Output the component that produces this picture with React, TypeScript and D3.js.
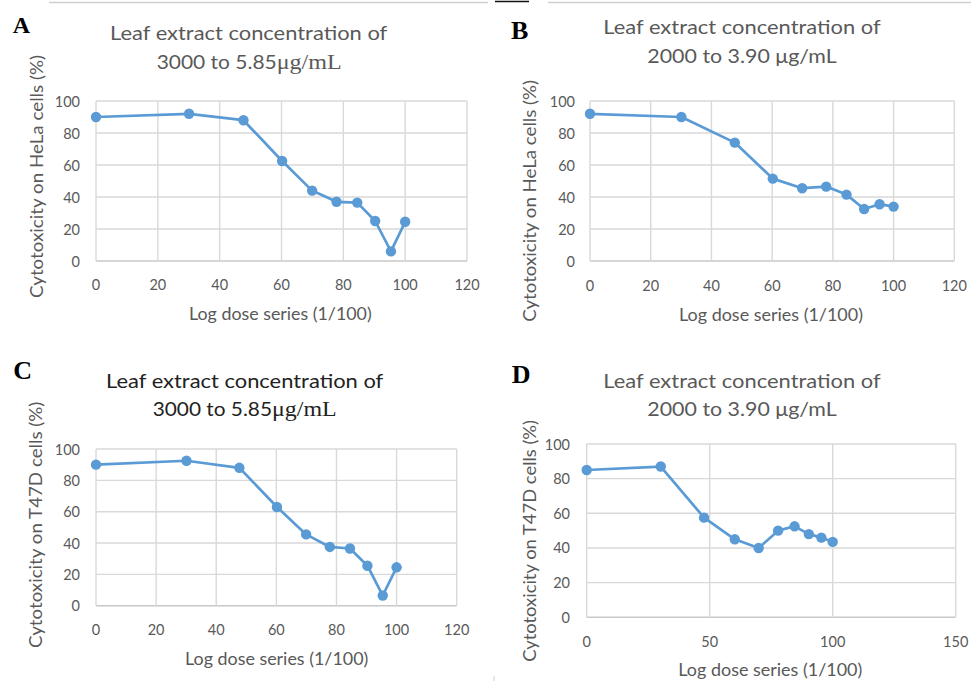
import React from 'react';
import * as d3 from 'd3';

// ---- data ----
const logDose = [0, 30.1, 47.7, 60.2, 69.9, 77.8, 84.5, 90.3, 95.4, 100];
const helaHigh = [90, 92, 88, 62.5, 44, 37, 36.5, 25, 6, 24.5];
const helaLow = [92, 90, 74, 51.5, 45.5, 46.5, 41.5, 32.5, 35.5, 34];
const t47dHigh = [90, 92.5, 88, 63, 45.5, 37.5, 36.5, 25.5, 6.5, 24.5];
const t47dLow = [85, 87, 57.5, 45, 40, 50, 52.5, 48, 46, 43.5];
const yTicks = [0, 20, 40, 60, 80, 100];
const xTicks120 = [0, 20, 40, 60, 80, 100, 120];
const xTicks150 = [0, 50, 100, 150];
const titleLine1 = 'Leaf extract concentration of';
const highRangeNum = '3000 to 5.85';
const highRangeUnit = 'μg/mL';
const lowRange = '2000 to 3.90 μg/mL';
const helaLabel = 'Cytotoxicity on HeLa cells (%)';
const t47dLabel = 'Cytotoxicity on T47D cells (%)';
const xLabel = 'Log dose series (1/100)';

const SANS = 'Lato, "Open Sans", sans-serif';
const SERIF = '"Liberation Serif", "DejaVu Serif", serif';
const BLUE = '#5b9bd5';
const GRID = '#d9d9d9';
const TXT = '#595959';

type Panel = {
  letter: string; letterX: number; letterY: number; letterSize: number;
  values: number[]; xTicks: number[]; xMax: number;
  l: number; r: number; t: number; b: number;
  t1: [number, number, number];
  t2: [number, number, number];
  t2split?: number;
  titleColor: string;
  yLab: string; yLabX: number; yLabY1: number; yLabY2: number;
  xLabX1: number; xLabX2: number; xLabY: number;
  yTickRight: number; xTickDy: number;
};

const panels: Panel[] = [
  {
    letter: 'A', letterX: 12.7, letterY: 33.3, letterSize: 24,
    values: helaHigh, xTicks: xTicks120, xMax: 120,
    l: 96, r: 467, t: 101, b: 261,
    t1: [110, 387.3, 40], t2: [156.7, 341.7, 69], t2split: 276.7, titleColor: TXT,
    yLab: helaLabel, yLabX: 36.7, yLabY1: 55, yLabY2: 298,
    xLabX1: 189, xLabX2: 371.7, xLabY: 319.5,
    yTickRight: 80, xTickDy: 23.5,
  },
  {
    letter: 'B', letterX: 511, letterY: 39.3, letterSize: 26,
    values: helaLow, xTicks: xTicks120, xMax: 120,
    l: 590, r: 954.3, t: 101, b: 261,
    t1: [603.3, 880.7, 34.3], t2: [647.3, 836.7, 63.3], titleColor: TXT,
    yLab: helaLabel, yLabX: 530, yLabY1: 80, yLabY2: 321.7,
    xLabX1: 679, xLabX2: 863, xLabY: 320.7,
    yTickRight: 575, xTickDy: 24,
  },
  {
    letter: 'C', letterX: 13.3, letterY: 379, letterSize: 26,
    values: t47dHigh, xTicks: xTicks120, xMax: 120,
    l: 96, r: 456.7, t: 449, b: 605.7,
    t1: [106, 383.3, 387.7], t2: [152.7, 336.7, 416], t2split: 272, titleColor: '#222222',
    yLab: t47dLabel, yLabX: 36, yLabY1: 401.7, yLabY2: 648,
    xLabX1: 185, xLabX2: 368.3, xLabY: 665,
    yTickRight: 80, xTickDy: 23.6,
  },
  {
    letter: 'D', letterX: 511.7, letterY: 383.3, letterSize: 26,
    values: t47dLow, xTicks: xTicks150, xMax: 150,
    l: 586.7, r: 955.7, t: 444, b: 617.3,
    t1: [603.3, 880.7, 387.7], t2: [647.3, 836.7, 416], titleColor: TXT,
    yLab: t47dLabel, yLabX: 530, yLabY1: 420, yLabY2: 661.7,
    xLabX1: 678.3, xLabX2: 862.3, xLabY: 676,
    yTickRight: 570, xTickDy: 24.4,
  },
];

function ChartPanel({ p }: { p: Panel }) {
  const x = d3.scaleLinear().domain([0, p.xMax]).range([p.l, p.r]);
  const y = d3.scaleLinear().domain([0, 100]).range([p.b, p.t]);
  const pts = logDose.map((d, i) => [d, p.values[i]] as [number, number]);
  const line = d3.line<[number, number]>().x(d => x(d[0])).y(d => y(d[1]));
  return (
    <g>
      <text x={p.letterX} y={p.letterY} fontFamily={SERIF} fontWeight="bold" fontSize={p.letterSize} fill="#000">{p.letter}</text>
      <text x={p.t1[0]} y={p.t1[2]} fontFamily={SANS} fontSize={20} fill={p.titleColor}
        textLength={p.t1[1] - p.t1[0]} lengthAdjust="spacingAndGlyphs">{titleLine1}</text>
      {p.t2split ? (
        <g>
          <text x={p.t2[0]} y={p.t2[2]} fontFamily={SANS} fontSize={20} fill={p.titleColor}
            textLength={p.t2split - p.t2[0]} lengthAdjust="spacingAndGlyphs">{highRangeNum}</text>
          <text x={p.t2split} y={p.t2[2]} fontFamily={SERIF} fontSize={21} fill={p.titleColor}
            textLength={p.t2[1] - p.t2split} lengthAdjust="spacingAndGlyphs">{highRangeUnit}</text>
        </g>
      ) : (
        <text x={p.t2[0]} y={p.t2[2]} fontFamily={SANS} fontSize={20} fill={p.titleColor}
          textLength={p.t2[1] - p.t2[0]} lengthAdjust="spacingAndGlyphs">{lowRange}</text>
      )}
      {yTicks.map(t => (
        <line key={'gy' + t} x1={p.l} x2={p.r} y1={y(t)} y2={y(t)} stroke={t === 0 ? '#c8c8c8' : GRID} strokeWidth={1.4} />
      ))}
      {p.xTicks.map(t => (
        <line key={'gx' + t} x1={x(t)} x2={x(t)} y1={p.t} y2={p.b} stroke={GRID} strokeWidth={1.4} />
      ))}
      {yTicks.map(t => (
        <text key={'ty' + t} x={p.yTickRight} y={y(t)} textAnchor="end" dominantBaseline="central"
          fontFamily={SANS} fontSize={14.5} fill={TXT}>{t}</text>
      ))}
      {p.xTicks.map(t => (
        <text key={'tx' + t} x={x(t)} y={p.b + p.xTickDy} textAnchor="middle" dominantBaseline="central"
          fontFamily={SANS} fontSize={14.5} fill={TXT}>{t}</text>
      ))}
      <text transform={`translate(${p.yLabX},${(p.yLabY1 + p.yLabY2) / 2}) rotate(-90)`} textAnchor="middle"
        dominantBaseline="central" fontFamily={SANS} fontSize={16.5} fill={TXT}
        textLength={p.yLabY2 - p.yLabY1} lengthAdjust="spacingAndGlyphs">{p.yLab}</text>
      <text x={p.xLabX1} y={p.xLabY} fontFamily={SANS} fontSize={16.5} fill={TXT}
        textLength={p.xLabX2 - p.xLabX1} lengthAdjust="spacingAndGlyphs">{xLabel}</text>
      <path d={line(pts) || ''} fill="none" stroke={BLUE} strokeWidth={2.7} strokeLinejoin="round" />
      {pts.map((d, i) => (
        <circle key={'c' + i} cx={x(d[0])} cy={y(d[1])} r={5.2} fill={BLUE} />
      ))}
    </g>
  );
}

export default function App() {
  return (
    <svg width={971} height={681} style={{ position: 'absolute', left: 0, top: 0, background: '#fff' }}>
      <rect x={0} y={0} width={971} height={681} fill="#fff" />
      <line x1={49} x2={488} y1={2.5} y2={2.5} stroke="#d0d0d0" strokeWidth={1.5} />
      <line x1={495} x2={529} y1={1.5} y2={1.5} stroke="#111" strokeWidth={1.5} />
      <line x1={548} x2={971} y1={2.5} y2={2.5} stroke="#d0d0d0" strokeWidth={1.5} />
      <line x1={494} x2={494} y1={676} y2={681} stroke="#d0d0d0" strokeWidth={1} />
      {panels.map(p => <ChartPanel key={p.letter} p={p} />)}
    </svg>
  );
}
